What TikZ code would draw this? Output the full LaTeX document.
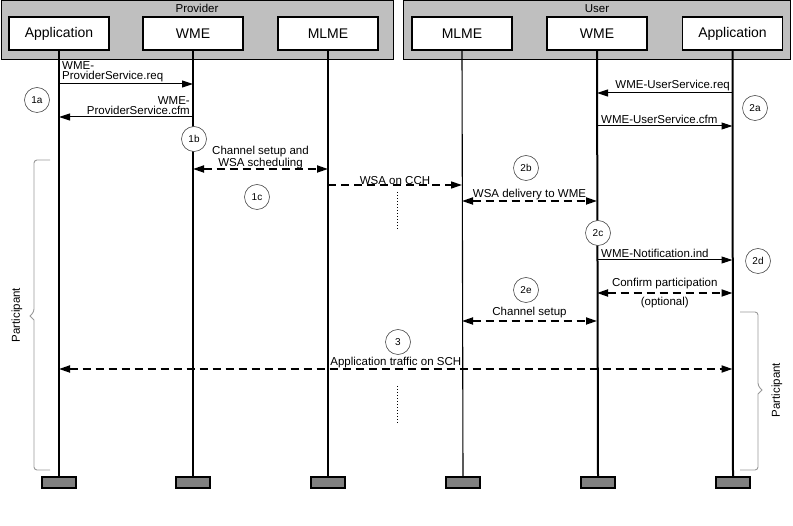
\documentclass[tikz,border=0pt]{standalone}
\usepackage{fontspec}
\setmainfont{Liberation Sans}
\usetikzlibrary{arrows.meta}
\begin{document}
\begin{tikzpicture}[x=1pt,y=-1pt,
  frame/.style={draw=black,line width=1pt,fill=black!25},
  head/.style={draw,line width=1.8pt,fill=white,minimum width=100pt,minimum height=33pt,inner sep=0pt,font=\fontsize{14}{16}\selectfont},
  foot/.style={draw,line width=1.3pt,fill=black!50,minimum width=34pt,minimum height=11pt,inner sep=0pt},
  life/.style={line width=1.1pt},
  lifeT/.style={line width=2pt},
  msg/.style={line width=1pt,-{Triangle[length=11pt,width=7pt]}},
  dmsg/.style={line width=1.8pt,dash pattern=on 8pt off 5pt,{Triangle[length=11pt,width=7pt]}-{Triangle[length=11pt,width=7pt]}},
  dmsgone/.style={line width=1.3pt,dash pattern=on 8pt off 5pt,-{Triangle[length=11pt,width=7pt]}},
  lab/.style={font=\fontsize{11.5}{10}\selectfont,inner sep=1pt},
  stepc/.style={circle,draw=black!70,line width=0.6pt,fill=white,minimum size=25pt,inner sep=0pt,font=\fontsize{10}{10}\selectfont},
  brace/.style={draw=black!40,line width=0.9pt,rounded corners=3pt},
  dots/.style={line width=0.6pt,dash pattern=on 1.5pt off 1.5pt}
]
\useasboundingbox (0,0) rectangle (793,526);
% frames
\draw[frame] (1,1) rectangle (393,60);
\draw[frame] (403,1) rectangle (790,60);
\node[font=\fontsize{11.5}{12}\selectfont] (tP) at (197,8.5) {Provider};
\node[font=\fontsize{11.5}{12}\selectfont] (tU) at (597,8.5) {User};
% headers
\node[head] (hA1) at (59,33.5) {Application};
\node[head] (hW1) at (193,33.5) {WME};
\node[head] (hM1) at (328,33.5) {MLME};
\node[head] (hM2) at (462,33.5) {MLME};
\node[head] (hW2) at (597,33.5) {WME};
\node[head] (hA2) at (732.5,33.5) {Application};
% feet
\node[foot] (fA1) at (59,482.5) {};
\node[foot] (fW1) at (193,482.5) {};
\node[foot] (fM1) at (328,482.5) {};
\node[foot] (fM2) at (463,482.5) {};
\node[foot] (fW2) at (598,482.5) {};
\node[foot] (fA2) at (733,482.5) {};
% lifelines
\draw[lifeT] (hA1.south) -- (fA1.north);
\draw[life] (hW1.south) -- (fW1.north);
\draw[life] (hM1.south) -- (fM1.north);
\draw[life] (hM2.south) -- (fM2.north);
\draw[lifeT] (hW2.south) -- (fW2.north);
\draw[lifeT] (hA2.south) -- (fA2.north);
% provider messages
\draw[msg] (hA1.south |- 0,84) -- (hW1.south |- 0,84);
\node[lab,anchor=south west,align=left] (l1) at (61,83) {WME-\\ProviderService.req};
\draw[msg] (hW1.south |- 0,117) -- (hA1.south |- 0,117);
\node[lab,anchor=south east,align=right] (l2) at (191,116) {WME-\\ProviderService.cfm};
\draw[dmsg] (hW1.south |- 0,169) -- node[lab,above=-1.5pt,align=center,font=\fontsize{11.5}{8.5}\selectfont] (l3) {Channel setup and\\WSA scheduling} (hM1.south |- 0,169);
\draw[dmsgone] (hM1.south |- 0,185) -- node[lab,above=-1pt] (l4) {WSA on CCH} (hM2.south |- 0,185);
% user messages
\draw[msg] (hA2.south |- 0,93) -- (hW2.south |- 0,93);
\node[lab,anchor=south east] (l5) at (731,92) {WME-UserService.req};
\draw[msg] (hW2.south |- 0,126) -- (hA2.south |- 0,126);
\node[lab,anchor=south west] (l6) at (600,125) {WME-UserService.cfm};
\draw[dmsg] (hM2.south |- 0,201) -- node[lab,above=-1pt] (l7) {WSA delivery to WME} (hW2.south |- 0,201);
\draw[msg] (hW2.south |- 0,260) -- (hA2.south |- 0,260);
\node[lab,anchor=south west] (l8) at (600,259) {WME-Notification.ind};
\draw[dmsg] (hW2.south |- 0,293) -- node[lab,above=2pt] (l9) {Confirm participation} node[lab,below=2pt] (l10) {(optional)} (hA2.south |- 0,293);
\draw[dmsg] (hM2.south |- 0,321) -- node[lab,above=1pt] (l11) {Channel setup} (hW2.south |- 0,321);
\draw[dmsg] (hA1.south |- 0,369) -- node[lab,above=-1pt] (l12) {Application traffic on SCH} (hA2.south |- 0,369);
% dotted continuation marks
\coordinate (d1a) at (397,192); \coordinate (d1b) at (397,230);
\coordinate (d2a) at (397,386); \coordinate (d2b) at (397,423);
\draw[dots] (d1a) -- (d1b);
\draw[dots] (d2a) -- (d2b);
% step circles
\node[stepc] (s1a) at (37,100) {1a};
\node[stepc] (s1b) at (194,139) {1b};
\node[stepc] (s1c) at (257,197) {1c};
\node[stepc] (s2a) at (755,108) {2a};
\node[stepc] (s2b) at (526,168) {2b};
\node[stepc] (s2c) at (598,233) {2c};
\node[stepc] (s2d) at (758,261) {2d};
\node[stepc] (s2e) at (526,290) {2e};
\node[stepc] (s3) at (398,342) {3};
% braces
\draw[brace] (50,160) -- (34,160) -- (34,312) [sharp corners] -- (30,316) -- (34,320) [rounded corners=3pt] -- (34,470) -- (50,470);
\draw[brace] (740,312) -- (758,312) -- (758,386) [sharp corners] -- (762,390) -- (758,394) [rounded corners=3pt] -- (758,470) -- (740,470);
\node[lab,rotate=90] (pL) at (17,315) {Participant};
\node[lab,rotate=90] (pR) at (777,390) {Participant};
\end{tikzpicture}
\end{document}
